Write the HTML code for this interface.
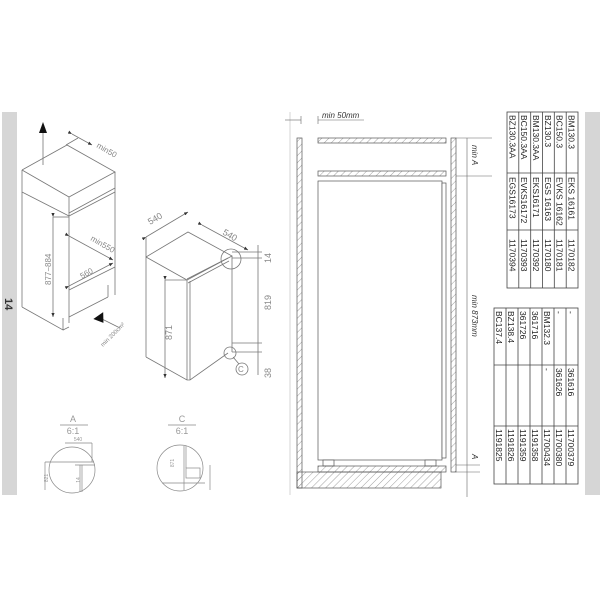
<!DOCTYPE html>
<html><head><meta charset="utf-8"><style>
html,body{margin:0;padding:0;background:#fff;}
svg{display:block;font-family:"Liberation Sans",sans-serif;}
</style></head><body>
<svg width="600" height="600" viewBox="0 0 600 600" xmlns="http://www.w3.org/2000/svg">
<defs>
<pattern id="h" width="5" height="5" patternUnits="userSpaceOnUse" patternTransform="rotate(45)">
<line x1="0" y1="0" x2="0" y2="5" stroke="#777" stroke-width="0.7"/>
</pattern>
<marker id="ar" markerWidth="6" markerHeight="6" refX="5" refY="3" orient="auto"><path d="M0,1 L5,3 L0,5" fill="#333"/></marker>
</defs>
<rect width="600" height="600" fill="#fff"/>
<rect x="2" y="112" width="15" height="383" fill="#d6d6d6"/>
<rect x="585" y="112" width="15" height="383" fill="#d6d6d6"/>
<text x="0" y="0" font-size="11" font-weight="bold" fill="#333" transform="translate(5,298) rotate(90)">14</text>

<g stroke="#777" stroke-width="0.8" fill="none">
<polyline points="22,170 69,197 115,172 67,145 22,170"/>
<line x1="22" y1="170" x2="22" y2="307"/>
<line x1="69" y1="197" x2="69" y2="323"/>
<line x1="115" y1="172" x2="115" y2="295"/>
<line x1="69" y1="213" x2="115" y2="188"/>
<line x1="69" y1="216" x2="115" y2="192"/>
<line x1="69" y1="290" x2="115" y2="267"/>
<line x1="69" y1="317" x2="108" y2="297"/>
<line x1="108" y1="297" x2="108" y2="285"/>
<polyline points="22,307 63,330 63,318"/>
<line x1="63" y1="330" x2="69" y2="327"/>
<line x1="69" y1="216" x2="22" y2="192"/>
<line x1="43" y1="165" x2="43" y2="130"/>
<line x1="53" y1="217" x2="53" y2="317" marker-end="url(#ar)" marker-start="url(#ar)"/>
<line x1="53" y1="217" x2="69" y2="217"/>
<line x1="69" y1="236" x2="113" y2="260" marker-end="url(#ar)" marker-start="url(#ar)"/>
<line x1="69" y1="286" x2="113" y2="263" marker-end="url(#ar)" marker-start="url(#ar)"/>
<line x1="72" y1="134" x2="92" y2="145" marker-end="url(#ar)" marker-start="url(#ar)"/>
<line x1="66" y1="145" x2="78" y2="138"/>
<line x1="100" y1="318" x2="120" y2="328"/>
</g>
<polygon points="43,122 39,133 47,133" fill="#111"/>
<polygon points="94,315 106,315 100,324" fill="#111" transform="rotate(-35 100 318)"/>
<g fill="#888" font-size="8">
<text transform="translate(51,285) rotate(-90)">877−884</text>
<text transform="translate(90,240) rotate(30)">min550</text>
<text transform="translate(82,279) rotate(-30)">560</text>
<text transform="translate(96,147) rotate(30)">min50</text>
<text transform="translate(103,347) rotate(-45)" font-size="6">min 200cm²</text>
</g>

<g stroke="#777" stroke-width="0.8" fill="none">
<polyline points="146,257 187,280 232,256 188,232 146,257"/>
<line x1="146" y1="257" x2="146" y2="357"/>
<line x1="187" y1="280" x2="187" y2="380"/>
<line x1="190" y1="281" x2="190" y2="380"/>
<line x1="232" y1="256" x2="232" y2="352"/>
<polyline points="146,357 187,380 190,380 228,353"/>
<line x1="187" y1="279" x2="228" y2="258"/>
<line x1="188" y1="283" x2="229" y2="261"/>
<line x1="146" y1="237" x2="188" y2="212" marker-end="url(#ar)" marker-start="url(#ar)"/>
<line x1="146" y1="237" x2="146" y2="257"/>
<line x1="202" y1="225" x2="248" y2="250" marker-end="url(#ar)" marker-start="url(#ar)"/>
<line x1="258" y1="245" x2="258" y2="375"/>
<line x1="232" y1="252" x2="262" y2="252"/><line x1="232" y1="258" x2="262" y2="258"/>
<line x1="232" y1="343" x2="262" y2="343"/><line x1="232" y1="352" x2="262" y2="352"/>
<line x1="165" y1="280" x2="165" y2="378" marker-end="url(#ar)" marker-start="url(#ar)"/>
<line x1="165" y1="280" x2="187" y2="280"/>
<circle cx="231" cy="259" r="10"/>
<circle cx="230" cy="353" r="6"/>
<circle cx="242" cy="369" r="6"/>
<line x1="233" y1="357" x2="239" y2="364"/>
</g>
<g fill="#888" font-size="9">
<text transform="translate(150,225) rotate(-30)">540</text>
<text transform="translate(222,234) rotate(30)">540</text>
<text transform="translate(271,263) rotate(-90)">14</text>
<text transform="translate(271,310) rotate(-90)">819</text>
<text transform="translate(271,378) rotate(-90)">38</text>
<text transform="translate(172,340) rotate(-90)">871</text>
<text x="238" y="372" font-size="8">C</text>
</g>

<g stroke="#888" stroke-width="0.7" fill="none">
<line x1="60" y1="425" x2="88" y2="425"/>
<line x1="168" y1="425" x2="196" y2="425"/>
<circle cx="72" cy="470" r="23"/>
<circle cx="180" cy="468" r="23"/>
<line x1="45" y1="462" x2="94" y2="462"/>
<line x1="75" y1="465" x2="95" y2="465"/>
<line x1="80" y1="465" x2="80" y2="492"/><line x1="82" y1="465" x2="82" y2="492"/>
<line x1="65" y1="443" x2="92" y2="443"/><line x1="92" y1="443" x2="92" y2="462"/>
<line x1="45" y1="462" x2="45" y2="490"/>
<line x1="184" y1="446" x2="184" y2="490"/><line x1="186" y1="446" x2="186" y2="468"/>
<rect x="186" y="468" width="14" height="10"/>
<line x1="162" y1="483" x2="205" y2="483"/>
<line x1="210" y1="465" x2="210" y2="490"/>
</g>
<g fill="#999" font-size="9" text-anchor="middle">
<text x="73" y="422">A</text><text x="73" y="434">6:1</text>
<text x="182" y="422">C</text><text x="182" y="434">6:1</text>
<text x="78" y="441" font-size="5">540</text>
<text transform="translate(48,478) rotate(-90)" font-size="5">821</text>
<text transform="translate(80,480) rotate(-90)" font-size="5">14</text>
<text transform="translate(174,463) rotate(-90)" font-size="5">871</text>
</g>

<line x1="290" y1="112" x2="290" y2="495" stroke="#ccc" stroke-width="0.8"/>
<g stroke="#555" stroke-width="0.7">
<rect x="297" y="138" width="5" height="350" fill="url(#h)"/>
<rect x="318" y="138" width="128" height="5" fill="url(#h)"/>
<rect x="318" y="171" width="128" height="5" fill="url(#h)"/>
<rect x="451" y="138" width="5" height="334" fill="url(#h)"/>
<rect x="318" y="181" width="124" height="279" fill="#fff"/>
<rect x="442" y="183" width="4" height="275" fill="#fff"/>
<rect x="323" y="460" width="11" height="6" fill="#fff"/>
<rect x="425" y="460" width="11" height="6" fill="#fff"/>
<rect x="318" y="466" width="128" height="6" fill="url(#h)"/>
<rect x="297" y="472" width="144" height="16" fill="url(#h)"/>
</g>
<g stroke="#666" stroke-width="0.6" fill="none">
<line x1="285" y1="120" x2="301" y2="120"/>
<line x1="301" y1="116" x2="301" y2="124"/>
<line x1="318" y1="116" x2="318" y2="124"/>
<line x1="318" y1="120" x2="364" y2="120"/>
<line x1="467" y1="138" x2="467" y2="497"/>
<line x1="456" y1="138" x2="492" y2="138"/>
<line x1="456" y1="176" x2="492" y2="176"/>
<line x1="456" y1="465" x2="480" y2="465"/>
<line x1="456" y1="472" x2="480" y2="472"/>
</g>
<g fill="#333" font-size="8" font-style="italic">
<text x="322" y="118">min 50mm</text>
<text transform="translate(472,145) rotate(90)">min A</text>
<text transform="translate(472,295) rotate(90)">min 873mm</text>
<text transform="translate(472,454) rotate(90)">A</text>
</g>

<g stroke="#444" stroke-width="0.8" fill="none">
<rect x="507" y="112" width="71" height="176"/>
<line x1="507" y1="173" x2="578" y2="173"/>
<line x1="507" y1="230" x2="578" y2="230"/>
<line x1="518.8" y1="112" x2="518.8" y2="288"/>
<line x1="530.7" y1="112" x2="530.7" y2="288"/>
<line x1="542.5" y1="112" x2="542.5" y2="288"/>
<line x1="554.3" y1="112" x2="554.3" y2="288"/>
<line x1="566.2" y1="112" x2="566.2" y2="288"/>
</g>
<g fill="#222" font-size="8.5">
<text transform="translate(568.5,115) rotate(90)">BM130.3</text>
<text transform="translate(568.5,177) rotate(90)">EKS 16161</text>
<text transform="translate(568.5,239) rotate(90)">1170182</text>
<text transform="translate(556.6,115) rotate(90)">BC150.3</text>
<text transform="translate(556.6,177) rotate(90)">EVKS 16162</text>
<text transform="translate(556.6,239) rotate(90)">1170181</text>
<text transform="translate(544.8,115) rotate(90)">BZ130.3</text>
<text transform="translate(544.8,177) rotate(90)">EGS 16163</text>
<text transform="translate(544.8,239) rotate(90)">1170180</text>
<text transform="translate(533,115) rotate(90)">BM130.3AA</text>
<text transform="translate(533,177) rotate(90)">EKS16171</text>
<text transform="translate(533,239) rotate(90)">1170392</text>
<text transform="translate(521.1,115) rotate(90)">BC150.3AA</text>
<text transform="translate(521.1,177) rotate(90)">EVKS16172</text>
<text transform="translate(521.1,239) rotate(90)">1170393</text>
<text transform="translate(509.3,115) rotate(90)">BZ130.3AA</text>
<text transform="translate(509.3,177) rotate(90)">EGS16173</text>
<text transform="translate(509.3,239) rotate(90)">1170394</text>
</g>

<g stroke="#444" stroke-width="0.8" fill="none">
<rect x="494" y="308" width="84" height="176"/>
<line x1="494" y1="365" x2="578" y2="365"/>
<line x1="494" y1="426" x2="578" y2="426"/>
<line x1="506" y1="308" x2="506" y2="484"/>
<line x1="518" y1="308" x2="518" y2="484"/>
<line x1="530" y1="308" x2="530" y2="484"/>
<line x1="542" y1="308" x2="542" y2="484"/>
<line x1="554" y1="308" x2="554" y2="484"/>
<line x1="566" y1="308" x2="566" y2="484"/>
</g>
<g fill="#222" font-size="8.5">
<text transform="translate(568,311) rotate(90)">-</text>
<text transform="translate(568,368) rotate(90)">361616</text>
<text transform="translate(568,429) rotate(90)">11700379</text>
<text transform="translate(556,311) rotate(90)">-</text>
<text transform="translate(556,368) rotate(90)">361626</text>
<text transform="translate(556,429) rotate(90)">11700380</text>
<text transform="translate(544,311) rotate(90)">BM132.3</text>
<text transform="translate(544,368) rotate(90)">-</text>
<text transform="translate(544,429) rotate(90)">11700434</text>
<text transform="translate(532,311) rotate(90)">361716</text>
<text transform="translate(532,429) rotate(90)">1191358</text>
<text transform="translate(520,311) rotate(90)">361726</text>
<text transform="translate(520,429) rotate(90)">1191359</text>
<text transform="translate(508,311) rotate(90)">BZ138.4</text>
<text transform="translate(508,429) rotate(90)">1191826</text>
<text transform="translate(496,311) rotate(90)">BC137.4</text>
<text transform="translate(496,429) rotate(90)">1191825</text>
</g>
</svg>
</body></html>
